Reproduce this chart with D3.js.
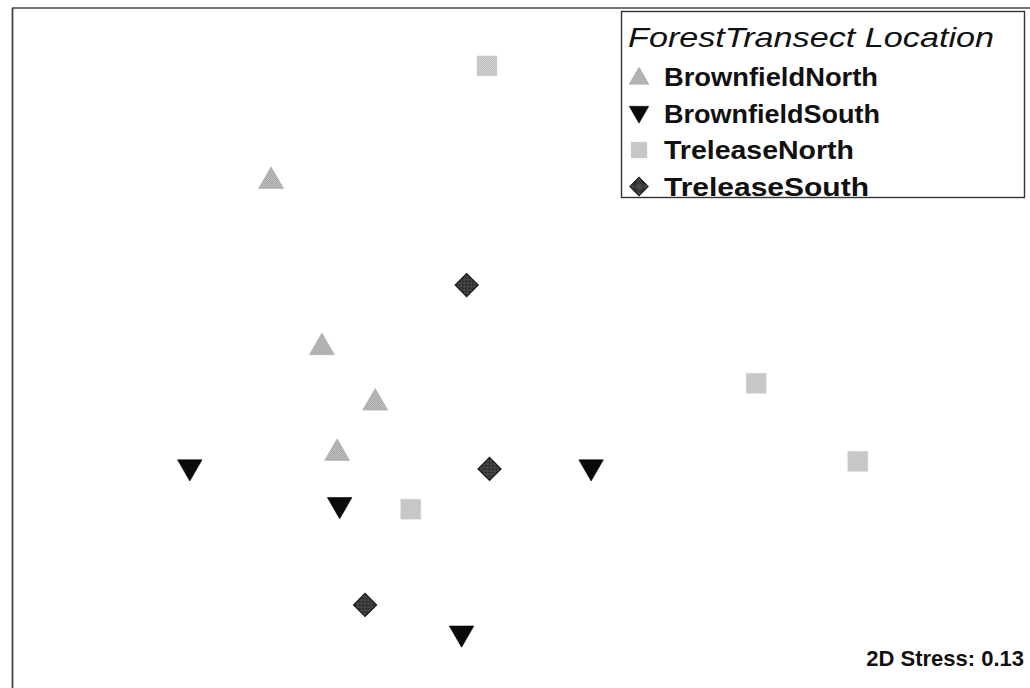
<!DOCTYPE html>
<html>
<head>
<meta charset="utf-8">
<script src="https://cdn.jsdelivr.net/npm/d3@7"></script>
<style>
  html, body { margin: 0; padding: 0; background: #fff; }
  svg { display: block; }
  text { font-family: "Liberation Sans", Arial, sans-serif; }
</style>
</head>
<body>
<svg id="chart" width="1030" height="688"></svg>
<script>
// NMDS ordination scores (axis 1, axis 2) per transect sample
const groups = ["BrownfieldNorth", "BrownfieldSouth", "TreleaseNorth", "TreleaseSouth"];
const brownfieldNorth = [[-0.98, 0.67], [-0.78, 0.01], [-0.57, -0.21], [-0.72, -0.41]];
const brownfieldSouth = [[-1.30, -0.48], [-0.71, -0.63], [0.28, -0.48], [-0.23, -1.14]];
const treleaseNorth   = [[-0.13, 1.12], [0.93, -0.14], [1.33, -0.45], [-0.43, -0.64]];
const treleaseSouth   = [[-0.21, 0.25], [-0.12, -0.48], [-0.61, -1.02]];
const legendTitle = "ForestTransect  Location";
const stressLabel = "2D Stress: 0.13";

const seriesValues = [brownfieldNorth, brownfieldSouth, treleaseNorth, treleaseSouth];

const W = 1030, H = 688;
const svg = d3.select("#chart");

// Stipple patterns for the halftone-looking fills
const defs = svg.append("defs");
function stipple(id, bg, dot, step) {
  const p = defs.append("pattern").attr("id", id)
    .attr("width", step).attr("height", step).attr("patternUnits", "userSpaceOnUse");
  p.append("rect").attr("width", step).attr("height", step).attr("fill", bg);
  p.append("rect").attr("width", 1).attr("height", 1).attr("fill", dot);
  p.append("rect").attr("x", step / 2).attr("y", step / 2).attr("width", 1).attr("height", 1).attr("fill", dot);
}
stipple("dotsTri", "#d0d0d0", "#959595", 2);
stipple("dotsSq", "#dadada", "#b4b4b4", 2);
stipple("dotsDia", "#5a5a5a", "#1e1e1e", 2);

const x = d3.scaleLinear().domain([-2, 2]).range([12, 1028]);
const y = d3.scaleLinear().domain([-1.35, 1.35]).range([688, 8]);

// Plot frame (top and left edges)
svg.append("line").attr("x1", 12).attr("y1", 8).attr("x2", W).attr("y2", 8)
  .attr("stroke", "#444").attr("stroke-width", 1.6);
svg.append("line").attr("x1", 12.5).attr("y1", 8).attr("x2", 12.5).attr("y2", H)
  .attr("stroke", "#444").attr("stroke-width", 1.8);

const styles = [
  { sym: d3.symbolTriangle, size: 270, rot: 0,   fill: "url(#dotsTri)", stroke: "#a8a8a8", sw: 0.6, dy: 2 },
  { sym: d3.symbolTriangle, size: 260, rot: 180, fill: "#0a0a0a",       stroke: "#000",    sw: 0.6, dy: -2 },
  { sym: d3.symbolSquare,   size: 400, rot: 0,   fill: "url(#dotsSq)",  stroke: "#d0d0d0", sw: 0.5, dy: 0 },
  { sym: d3.symbolSquare,   size: 265, rot: 45,  fill: "url(#dotsDia)", stroke: "#1a1a1a", sw: 1.2, dy: 0 }
];

function marker(g, i, cx, cy) {
  const s = styles[i];
  g.append("path")
    .attr("d", d3.symbol().type(s.sym).size(s.size)())
    .attr("transform", `translate(${cx},${cy + s.dy}) rotate(${s.rot})`)
    .attr("fill", s.fill).attr("stroke", s.stroke).attr("stroke-width", s.sw);
}

const pts = svg.append("g");
seriesValues.forEach((vals, i) => {
  vals.forEach(([a, b]) => marker(pts, i, x(a), y(b)));
});

// Legend
const lg = svg.append("g");
lg.append("rect").attr("x", 621.5).attr("y", 11.5).attr("width", 403).attr("height", 186)
  .attr("fill", "#fff").attr("stroke", "#333").attr("stroke-width", 1.4);
lg.append("text").attr("x", 628).attr("y", 47)
  .attr("font-size", 28).attr("font-style", "italic").attr("fill", "#111")
  .attr("textLength", 366).attr("lengthAdjust", "spacingAndGlyphs")
  .text(legendTitle);
const legendWidths = [214, 216, 190, 205];
groups.forEach((name, i) => {
  const cy = 77 + i * 36.5;
  const gi = lg.append("g").attr("transform", `translate(639,${cy}) scale(0.8)`);
  marker(gi, i, 0, 0);
  lg.append("text").attr("x", 664).attr("y", cy + 9)
    .attr("font-size", 25).attr("font-weight", "bold").attr("fill", "#111")
    .attr("textLength", legendWidths[i]).attr("lengthAdjust", "spacingAndGlyphs")
    .text(name);
});

// Stress value
svg.append("text").attr("x", 1024).attr("y", 666).attr("text-anchor", "end")
  .attr("font-size", 22).attr("font-weight", "bold").attr("fill", "#111")
  .text(stressLabel);
</script>
</body>
</html>
